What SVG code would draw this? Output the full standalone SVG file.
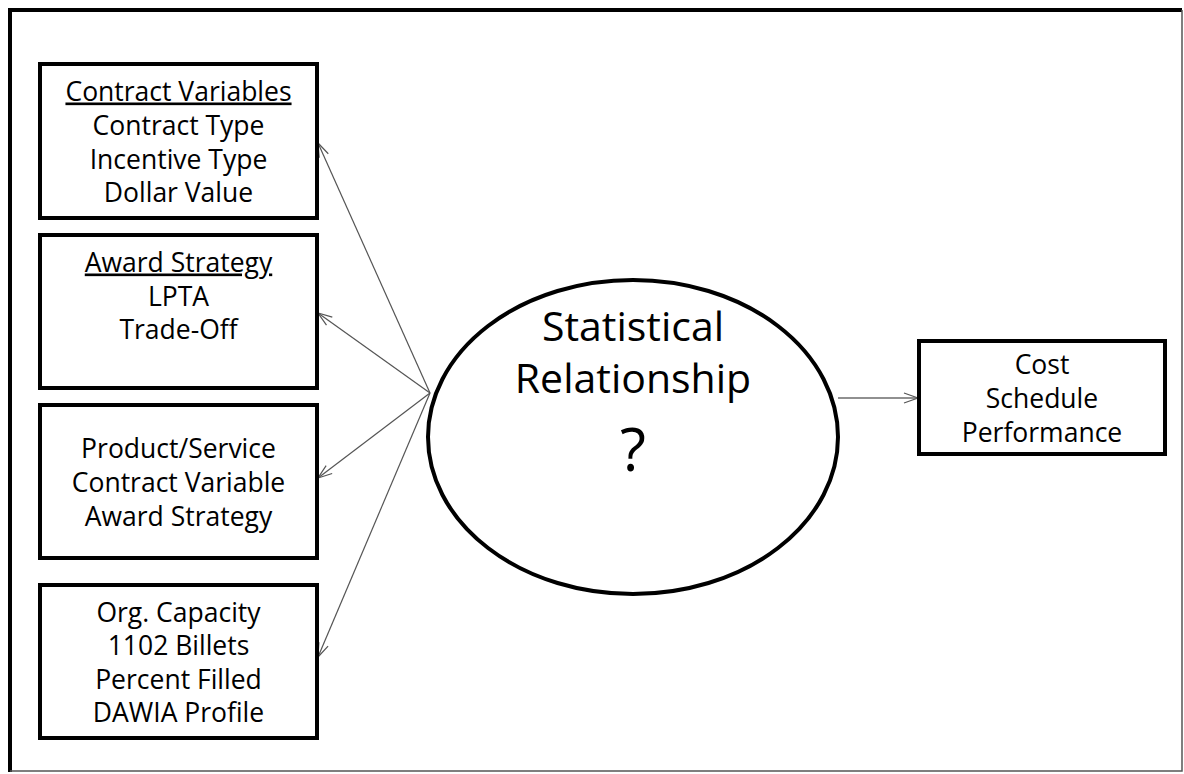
<svg xmlns="http://www.w3.org/2000/svg" width="1184" height="774" viewBox="0 0 1184 774">
<style>
.box{fill:#fff;stroke:#000;stroke-width:4}
.t{font-family:"Open Sans","Noto Sans","Liberation Sans",sans-serif;font-size:26.5px;fill:#000;text-anchor:middle}
.u{text-decoration:underline}
.big{font-family:"Open Sans","Noto Sans","Liberation Sans",sans-serif;font-size:41px;fill:#000;text-anchor:middle}
.c{stroke:#555;stroke-width:1.2;fill:none;marker-end:url(#ah)}
</style>
<defs>
<marker id="ah" markerWidth="16" markerHeight="12" refX="15" refY="6" orient="auto" markerUnits="userSpaceOnUse">
<path d="M1,1 L15,6 L1,11" fill="none" stroke="#555" stroke-width="1.2"/>
</marker>
</defs>
<rect x="0" y="0" width="1184" height="774" fill="#fff"/>
<path d="M10,772 L10,10 L1182,10" fill="none" stroke="#000" stroke-width="4"/>
<path d="M1182,10 L1182,771 L10,771" fill="none" stroke="#555" stroke-width="1.5"/>
<g id="connectors">
<line class="c" x1="430" y1="393" x2="318" y2="143"/>
<line class="c" x1="430" y1="393" x2="318" y2="313"/>
<line class="c" x1="430" y1="393" x2="318" y2="478"/>
<line class="c" x1="430" y1="393" x2="318" y2="657"/>
<line class="c" x1="838" y1="398" x2="918" y2="398" style="stroke:#222"/>
</g>
<g id="contract-variables">
<rect class="box" x="40" y="64" width="277" height="154"/>
<text class="t u" x="178.5" y="100.5">Contract Variables</text>
<text class="t" x="178.5" y="134.5">Contract Type</text>
<text class="t" x="178.5" y="168.5">Incentive Type</text>
<text class="t" x="178.5" y="201.5">Dollar Value</text>
</g>
<g id="award-strategy">
<rect class="box" x="40" y="235" width="277" height="153"/>
<text class="t u" x="178.5" y="271.5">Award Strategy</text>
<text class="t" x="178.5" y="305.5">LPTA</text>
<text class="t" x="178.5" y="338.5">Trade-Off</text>
</g>
<g id="product-service">
<rect class="box" x="40" y="405" width="277" height="153"/>
<text class="t" x="178.5" y="457.5">Product/Service</text>
<text class="t" x="178.5" y="491.5">Contract Variable</text>
<text class="t" x="178.5" y="525.5">Award Strategy</text>
</g>
<g id="org-capacity">
<rect class="box" x="40" y="585" width="277" height="153"/>
<text class="t" x="178.5" y="621.5">Org. Capacity</text>
<text class="t" x="178.5" y="654.5">1102 Billets</text>
<text class="t" x="178.5" y="688.5">Percent Filled</text>
<text class="t" x="178.5" y="721.5">DAWIA Profile</text>
</g>
<g id="statistical-relationship">
<ellipse cx="633" cy="437" rx="205" ry="157" fill="#fff" stroke="#000" stroke-width="4"/>
<text class="big" x="633" y="341">Statistical</text>
<text class="big" x="633" y="393">Relationship</text>
<text class="big" x="633" y="471" style="font-size:60px">?</text>
</g>
<g id="outcomes">
<rect class="box" x="919" y="341" width="246" height="113"/>
<text class="t" x="1042" y="373.5">Cost</text>
<text class="t" x="1042" y="407.5">Schedule</text>
<text class="t" x="1042" y="441.5">Performance</text>
</g>
</svg>
